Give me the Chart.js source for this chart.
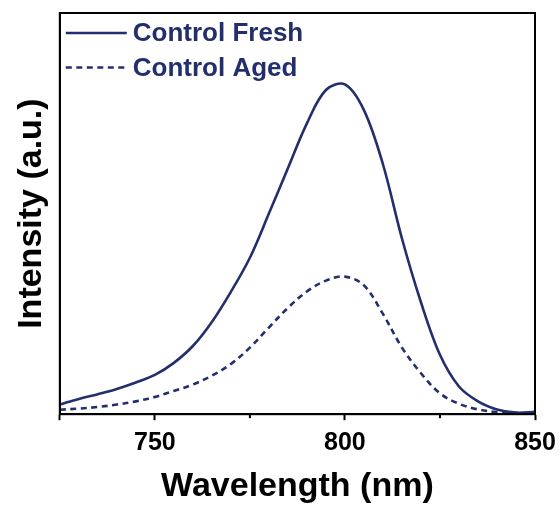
<!DOCTYPE html>
<html>
<head>
<meta charset="utf-8">
<script src="https://cdn.jsdelivr.net/npm/chart.js@4/dist/chart.umd.min.js"></script>
<style>
  html, body { margin: 0; padding: 0; background: #fff; }
  #wrap { width: 560px; height: 507px; }
</style>
</head>
<body>
<div id="wrap"><canvas id="c" width="560" height="507"></canvas></div>
<script>
// ---- data ----
const wavelengths = [725,730,735,740,745,750,755,760,765,770,775,780,785,790,795,800,805,810,815,820,825,830,835,840,845,850];
const freshValues = [2.4,3.8,5.0,6.3,7.9,9.8,12.8,17.0,23.0,30.5,39.0,50.0,61.3,72.5,80.8,82.2,75.8,62.3,43.8,27.9,14.8,6.9,3.2,1.2,0.4,0.6];
const agedValues  = [1.1,1.4,1.8,2.4,3.2,4.3,5.8,7.4,9.6,12.5,16.6,21.6,26.5,30.6,33.3,34.3,32.1,25.0,16.6,10.2,5.2,2.6,1.2,0.5,0.3,0.2];
const seriesLabels = ['Control Fresh', 'Control Aged'];
const xTickLabels = [750, 800, 850];
const minorTicks = [775, 825];

const NAVY = '#232f6c';
const FONT = "'Liberation Sans', Arial, sans-serif";

const toPoints = (vals) => wavelengths.map((w, i) => ({ x: w, y: vals[i] }));

const framePlugin = {
  id: 'frame',
  afterDraw(chart) {
    const { ctx, chartArea: a, scales } = chart;
    ctx.save();
    ctx.strokeStyle = '#000';
    ctx.lineWidth = 2;
    ctx.strokeRect(a.left, a.top, a.right - a.left, a.bottom - a.top);
    minorTicks.forEach(v => {
      const x = scales.x.getPixelForValue(v);
      ctx.beginPath();
      ctx.moveTo(x, a.bottom);
      ctx.lineTo(x, a.bottom + 4);
      ctx.stroke();
    });
    ctx.restore();
  }
};

const legendPlugin = {
  id: 'insideLegend',
  afterDraw(chart) {
    const { ctx, chartArea: a } = chart;
    ctx.save();
    chart.data.datasets.forEach((ds, i) => {
      const y = a.top + 20 + i * 34.5;
      ctx.strokeStyle = ds.borderColor;
      ctx.lineWidth = ds.borderWidth;
      ctx.setLineDash(ds.borderDash || []);
      ctx.beginPath();
      ctx.moveTo(a.left + 6, y);
      ctx.lineTo(a.left + 67, y);
      ctx.stroke();
      ctx.setLineDash([]);
      ctx.fillStyle = NAVY;
      ctx.font = "bold 26px " + FONT;
      ctx.textBaseline = 'middle';
      ctx.textAlign = 'left';
      ctx.fillText(ds.label, a.left + 73, y + 1);
    });
    ctx.restore();
  }
};

new Chart(document.getElementById('c'), {
  type: 'line',
  data: {
    datasets: [
      { label: seriesLabels[0], data: toPoints(freshValues), borderColor: NAVY, borderWidth: 2.6,
        pointRadius: 0, tension: 0.35, fill: false },
      { label: seriesLabels[1], data: toPoints(agedValues), borderColor: NAVY, borderWidth: 2.6,
        borderDash: [6, 4.5], pointRadius: 0, tension: 0.35, fill: false }
    ]
  },
  options: {
    responsive: false,
    animation: false,
    layout: { padding: { top: 13, right: 25, left: 0, bottom: 0 } },
    plugins: { legend: { display: false }, tooltip: { enabled: false } },
    scales: {
      x: {
        type: 'linear', min: 725, max: 850,
        afterFit: (s) => { s.paddingRight = 0; s.paddingLeft = 0; },
        ticks: {
          stepSize: 50, autoSkip: false, maxRotation: 0, padding: 8,
          color: '#000', font: { family: FONT, size: 25, weight: 'bold' },
          callback: (v) => xTickLabels.includes(v) ? String(v) : ''
        },
        grid: { drawOnChartArea: false, drawTicks: true, tickLength: 6, tickWidth: 2, tickColor: '#000' },
        border: { display: true, color: '#000', width: 2 },
        title: { display: true, text: 'Wavelength (nm)', color: '#000',
          font: { family: FONT, size: 34, weight: 'bold' }, padding: { top: 0, bottom: 0 } }
      },
      y: {
        min: 0, max: 100,
        ticks: { display: false },
        grid: { display: false, drawTicks: false },
        border: { display: true, color: '#000', width: 2 },
        title: { display: true, text: 'Intensity (a.u.)', color: '#000',
          font: { family: FONT, size: 34, weight: 'bold' }, padding: { top: 11, bottom: 8 } }
      }
    }
  },
  plugins: [framePlugin, legendPlugin]
});
</script>
</body>
</html>
